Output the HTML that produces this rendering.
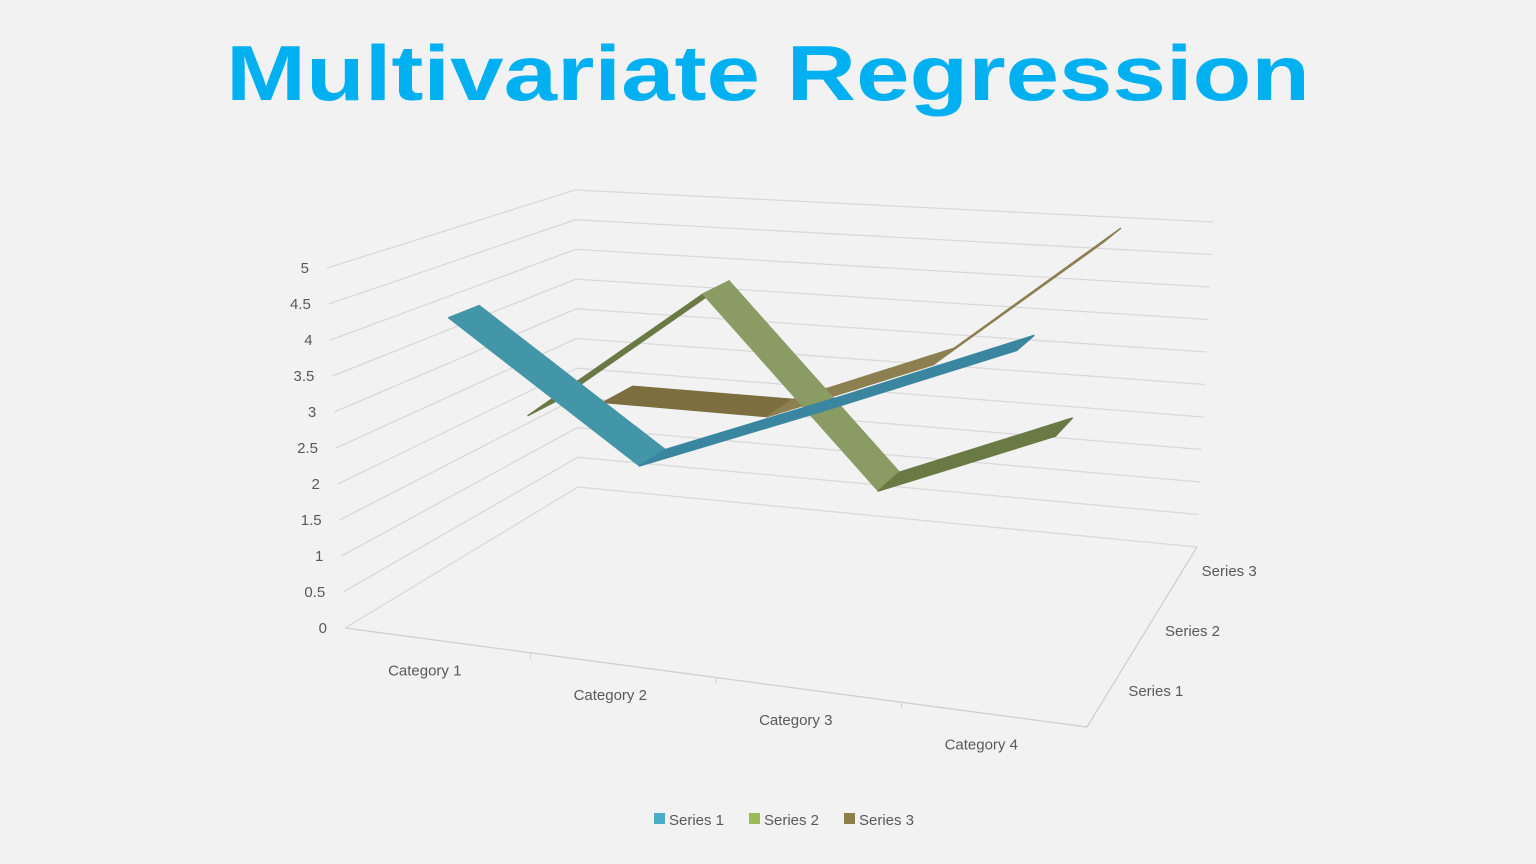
<!DOCTYPE html>
<html><head><meta charset="utf-8"><style>
html,body{margin:0;padding:0;background:#f2f2f2;}
svg{display:block;font-family:"Liberation Sans",sans-serif;}
</style></head><body>
<svg id="chart" width="1536" height="864" viewBox="0 0 1536 864">
<rect width="1536" height="864" fill="#f2f2f2"/>
<text x="768" y="100" text-anchor="middle" font-size="78" font-weight="bold" fill="#00b0f0" textLength="1084" lengthAdjust="spacingAndGlyphs">Multivariate Regression</text>
<g id="grid"></g>
<g id="marks"></g>
<g id="labels"></g>
<g id="legend"></g>
</svg>
<script>
const categories = ["Category 1","Category 2","Category 3","Category 4"];
const seriesNames = ["Series 1","Series 2","Series 3"];
const series1 = [4.3, 2.5, 3.5, 4.5];
const series2 = [2.4, 4.4, 1.8, 2.8];
const series3 = [2, 2, 3, 5];
const valueTicks = [0,0.5,1,1.5,2,2.5,3,3.5,4,4.5,5];

const NS="http://www.w3.org/2000/svg";
const C={
 "000":[345,628],"400":[1087,727],"030":[578,487],"430":[1197,547],
 "005":[327,268],"405":[1102,330],"035":[575,190],"435":[1213,222]};
function lerp(a,b,t){return [a[0]+(b[0]-a[0])*t,a[1]+(b[1]-a[1])*t];}
function P(c,s,v){
 const a=c/4,b=s/3,h=v/5;
 const f0=lerp(lerp(C["000"],C["400"],a),lerp(C["030"],C["430"],a),b);
 const f1=lerp(lerp(C["005"],C["405"],a),lerp(C["035"],C["435"],a),b);
 return lerp(f0,f1,h);
}
function el(tag,attrs,parent){const e=document.createElementNS(NS,tag);for(const k in attrs)e.setAttribute(k,attrs[k]);parent.appendChild(e);return e;}
const grid=document.getElementById('grid'),marks=document.getElementById('marks'),labels=document.getElementById('labels'),legend=document.getElementById('legend');

valueTicks.forEach((v,i)=>{
 const a=P(0,0,v),b=P(0,3,v),c=P(4,3,v);
 const g=el('polyline',{points:`${a[0]},${a[1]} ${b[0]},${b[1]} ${c[0]},${c[1]}`,fill:'none',stroke:'#d9d9d9','stroke-width':1.3},grid);
 
 
 const t=el('text',{x:a[0]-18,y:a[1]+5,'text-anchor':'end','font-size':15,fill:'#595959'},labels);
 t.textContent=v;
 
 
});
{
 const a=P(0,0,0),b=P(4,0,0),c=P(4,3,0);
 const ax=el('polyline',{points:`${a[0]},${a[1]} ${b[0]},${b[1]} ${c[0]},${c[1]}`,fill:'none',stroke:'#d0d0d0','stroke-width':1.3},grid);
 
 
 for(let i=1;i<4;i++){const p=P(i,0,0);const tk=el('line',{x1:p[0],y1:p[1],x2:p[0],y2:p[1]+6,stroke:'#d0d0d0'},grid);
  
  }
}
categories.forEach((c,i)=>{
 const p=P(i+0.5,0,0);
 const t=el('text',{x:p[0]-13,y:p[1]+35,'text-anchor':'middle','font-size':15,fill:'#595959'},labels);
 t.textContent=c;
 
 
});
seriesNames.forEach((s,i)=>{
 const p=P(4,i+0.5,0);
 const t=el('text',{x:p[0]+23,y:p[1]-1,'font-size':15,fill:'#595959'},labels);
 t.textContent=s;
 
 
});
const allSeries=[series1,series2,series3];
const colors=[
 {down:'#4396a8',up:'#3a86a0',flat:'#3f8ea4'},
 {down:'#8a9c64',up:'#6a7a45',flat:'#7b8c55'},
 {down:'#7d6e40',up:'#8c7f50',flat:'#7d6e40'}];
for(let si=2;si>=0;si--){
 const data=allSeries[si];const s0=si+0.3,s1=si+0.7;
 for(let i=0;i<data.length-1;i++){
  const a=P(i+0.5,s0,data[i]),b=P(i+1.5,s0,data[i+1]),c=P(i+1.5,s1,data[i+1]),d=P(i+0.5,s1,data[i]);
  const diff=data[i+1]-data[i];
  const col=diff<0?colors[si].down:(diff>0?colors[si].up:colors[si].flat);
  const q=el('polygon',{points:[a,b,c,d].map(p=>p.join(',')).join(' '),fill:col,stroke:col,'stroke-width':1.5,'stroke-linejoin':'round'},marks);
  
  
 }
}
const legCols=['#4bacc6','#9bbb59','#8c7f47'];
const legX=[654,749,844];
seriesNames.forEach((s,i)=>{
 const r=el('rect',{x:legX[i],y:813,width:11,height:11,fill:legCols[i]},legend);
 
 
 const t=el('text',{x:legX[i]+15,y:825,'font-size':15,fill:'#595959'},legend);
 t.textContent=s;
 
 
});
</script>
</body></html>
